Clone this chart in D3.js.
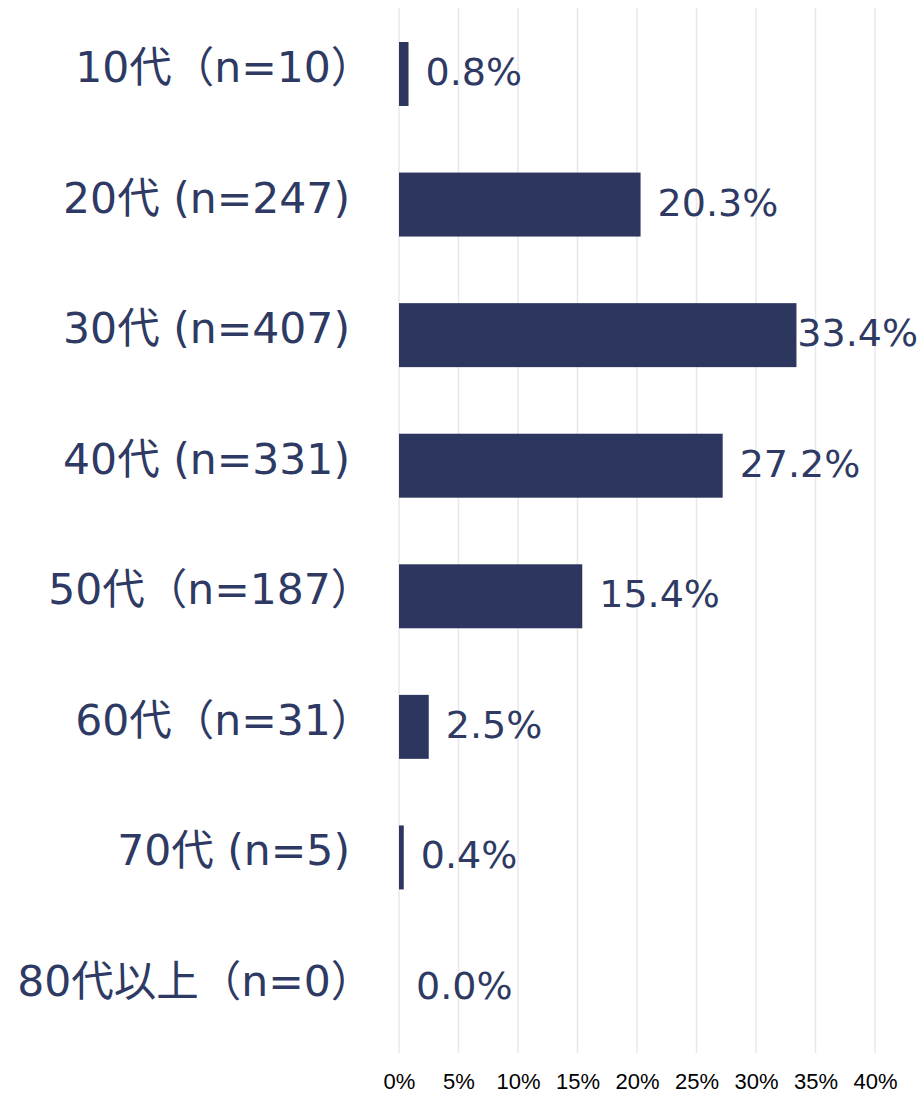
<!DOCTYPE html>
<html>
<head>
<meta charset="utf-8">
<script src="https://cdn.jsdelivr.net/npm/d3@7"></script>
<style>
  body { margin: 0; background: #fff; }
  svg { display: block; }
</style>
</head>
<body>
<div id="chart"></div>
<script>
const categories = ["10代（n=10）", "20代 (n=247)", "30代 (n=407)", "40代 (n=331)", "50代（n=187）", "60代（n=31）", "70代 (n=5)", "80代以上（n=0）"];
const values = [0.8, 20.3, 33.4, 27.2, 15.4, 2.5, 0.4, 0.0];
const tickValues = [0, 5, 10, 15, 20, 25, 30, 35, 40];

const width = 922, height = 1094;
const barColor = "#2d365f";
const textColor = "#2e3a63";
const labelSize = 42.5;

const svg = d3.select("#chart").append("svg")
    .attr("width", width)
    .attr("height", height);

const x = d3.scaleLinear().domain([0, 40]).range([399, 875]);
const y = d3.scaleBand().domain(categories).range([8.7, 1053.3])
    .paddingInner(0.51).paddingOuter(0.255);

// grid
svg.append("g")
    .selectAll("line")
    .data(tickValues)
    .join("line")
    .attr("x1", d => x(d)).attr("x2", d => x(d))
    .attr("y1", 8).attr("y2", 1053)
    .attr("stroke", "#e8e8e8")
    .attr("stroke-width", 1.5);

// x axis labels
const xAxis = svg.append("g")
    .attr("transform", "translate(0,1053)")
    .call(d3.axisBottom(x).tickValues(tickValues).tickFormat(d => d + "%").tickSize(0).tickPadding(20));
xAxis.select(".domain").remove();
xAxis.selectAll("text")
    .attr("font-family", "'Liberation Sans', Arial, sans-serif")
    .attr("font-size", 22)
    .attr("fill", "#000");

// bars
svg.append("g")
    .selectAll("rect")
    .data(values)
    .join("rect")
    .attr("x", x(0))
    .attr("y", (d, i) => y(categories[i]))
    .attr("width", d => x(d) - x(0))
    .attr("height", y.bandwidth())
    .attr("fill", barColor);

// category labels (full-width closing paren has blank space on its right, so nudge those)
svg.append("g")
    .selectAll("text")
    .data(categories)
    .join("text")
    .attr("x", d => d.endsWith("）") ? 350 + labelSize * 0.55 : 350)
    .attr("y", d => y(d) + y.bandwidth() / 2 + 8)
    .attr("text-anchor", "end")
    .attr("font-family", "'DejaVu Sans', Verdana, 'Noto Sans CJK JP', sans-serif")
    .attr("font-size", labelSize)
    .attr("fill", textColor)
    .text(d => d);

// value labels
svg.append("g")
    .selectAll("text")
    .data(values)
    .join("text")
    .attr("y", (d, i) => y(categories[i]) + y.bandwidth() / 2 + 11)
    .attr("font-family", "'DejaVu Sans', Verdana, sans-serif")
    .attr("font-size", 38)
    .attr("fill", textColor)
    .text(d => d.toFixed(1) + "%")
    .each(function(d) {
        const w = this.getComputedTextLength();
        const px = Math.min(x(d) + 17, 918 - w);
        d3.select(this).attr("x", px);
    });
</script>
</body>
</html>
